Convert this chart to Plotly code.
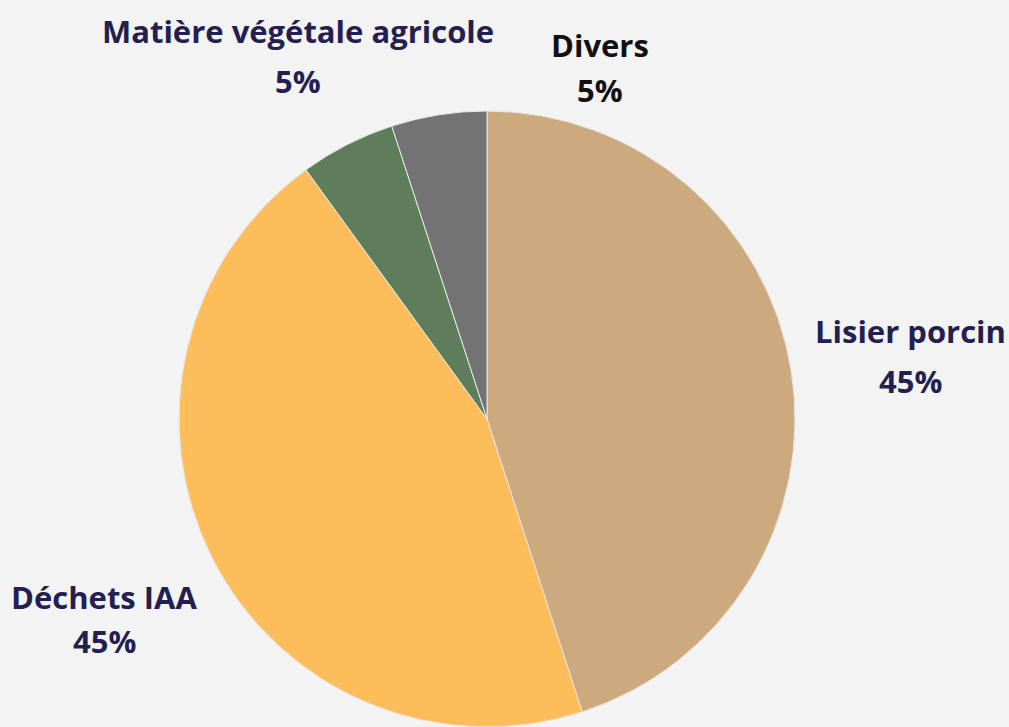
import plotly.graph_objects as go

labels = ["Lisier porcin", "Déchets IAA", "Matière végétale agricole", "Divers"]
values = [45, 45, 5, 5]
colors = ["#cdaa7d", "#fdbd5b", "#5d7d5b", "#737373"]
label_colors = ["#231f50", "#231f50", "#231f50", "#111111"]
# label anchor positions (pixel centers): name line and percent line
label_pos = [
    (910, 331, 381),
    (104, 597, 641),
    (298, 31, 81),
    (600, 45, 90),
]

W, H = 1009, 727
cx, cy, r = 487, 419, 308

fig = go.Figure(go.Pie(
    labels=labels,
    values=values,
    marker=dict(colors=colors, line=dict(color="#e8e8e8", width=1)),
    sort=False,
    direction="clockwise",
    rotation=0,
    textinfo="none",
    hoverinfo="label+percent",
    showlegend=False,
    domain=dict(x=[(cx - r) / W, (cx + r) / W],
                y=[max(0, (H - cy - r) / H), (H - cy + r) / H]),
))

total = sum(values)
annotations = []
for lab, val, col, (x, y1, y2) in zip(labels, values, label_colors, label_pos):
    pct = f"{round(val / total * 100)}%"
    for txt, yy in ((lab, y1), (pct, y2)):
        annotations.append(dict(
            text=f"<b>{txt}</b>", x=x / W, y=1 - yy / H, xref="paper", yref="paper",
            xanchor="center", yanchor="middle", showarrow=False,
            font=dict(family="Open Sans", size=31, color=col),
        ))

fig.update_layout(
    width=W, height=H,
    margin=dict(l=0, r=0, t=0, b=0),
    paper_bgcolor="#f3f3f3",
    plot_bgcolor="#f3f3f3",
    annotations=annotations,
)

fig.write_html(
    "out.html",
    config={"displayModeBar": False},
    post_script="document.body.style.margin='0';document.body.style.background='#f3f3f3';",
)
